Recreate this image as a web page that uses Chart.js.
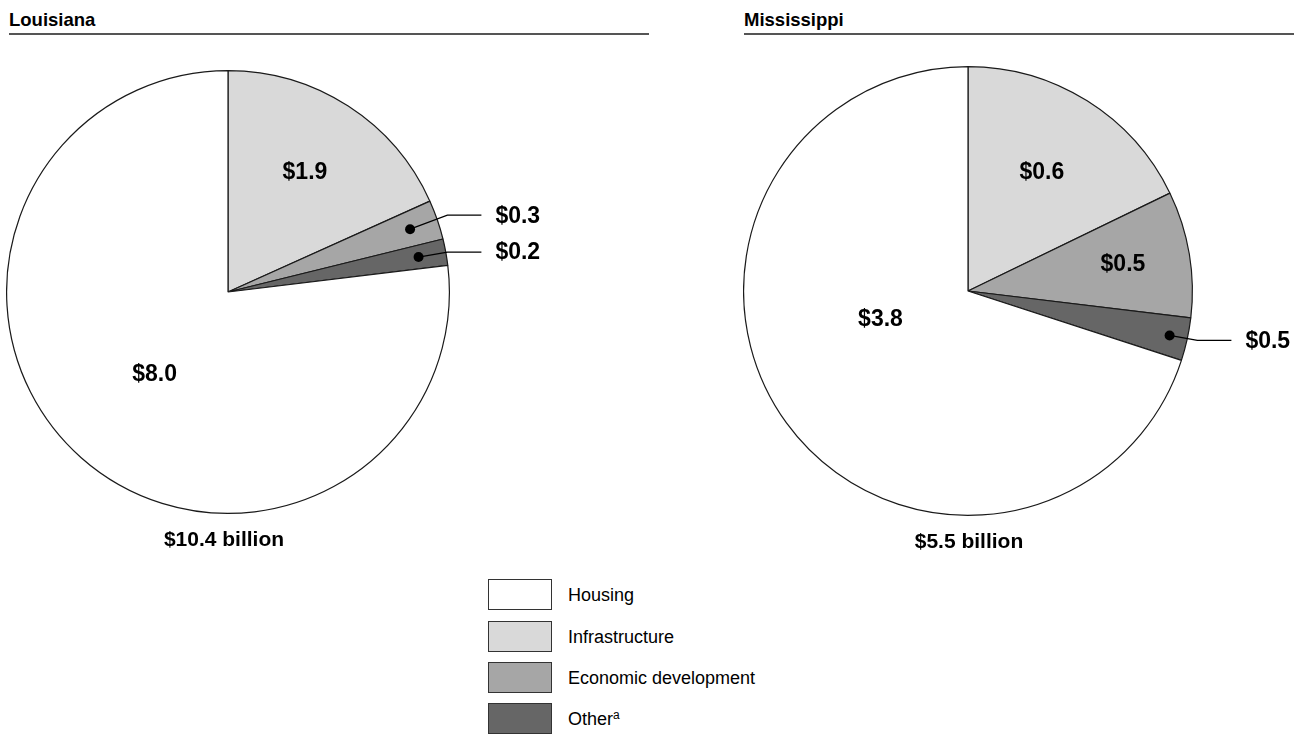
<!DOCTYPE html>
<html><head><meta charset="utf-8">
<script src="https://cdn.jsdelivr.net/npm/chart.js@4"></script>
<style>
body{margin:0;background:#fff;width:1294px;height:739px;overflow:hidden;position:relative;font-family:"Liberation Sans",Arial,sans-serif;color:#000;}
.title{position:absolute;font-weight:bold;font-size:18.5px;line-height:22px;}
.rule{position:absolute;height:2px;background:#555;}
canvas{position:absolute;}
.lg-box{position:absolute;left:488px;width:62px;height:29px;border:1.5px solid #333;}
.lg-text{position:absolute;left:568px;font-size:18px;line-height:20px;}
.lg-text sup{font-size:12px;vertical-align:6px;line-height:0;}
</style></head><body>
<div class="title" style="left:9px;top:9px">Louisiana</div>
<div class="rule" style="left:9px;top:33px;width:640px"></div>
<div class="title" style="left:744px;top:9px">Mississippi</div>
<div class="rule" style="left:744px;top:33px;width:550px"></div>
<canvas id="la" width="600" height="500" style="left:6px;top:70px"></canvas>
<canvas id="ms" width="551" height="510" style="left:743px;top:66px"></canvas>
<div id="legend"></div>
<script>
// legend order
const categories = ['Housing', 'Infrastructure', 'Economic development', 'Other'];
const categoryNotes = ['', '', '', 'a'];
const colors = ['#ffffff', '#d9d9d9', '#a6a6a6', '#666666'];
// order in which slices are drawn clockwise from 12 o'clock (indices into categories)
const drawOrder = [1, 2, 3, 0];

// values in legend order (billions)
const louisianaValues = [8.0, 1.9, 0.3, 0.2];
const louisianaLabels = ['$8.0', '$1.9', '$0.3', '$0.2'];
const louisianaTotal = '$10.4 billion';

// slice sizes as drawn in the picture (billions), legend order
const mississippiValues = [3.85, 0.98, 0.50, 0.17];
const mississippiLabels = ['$3.8', '$0.6', '$0.5', '$0.5'];
const mississippiTotal = '$5.5 billion';

const FONT = '"Liberation Sans", Arial, sans-serif';

const sliceLabels = {
  id: 'sliceLabels',
  afterDatasetsDraw(chart, args, opts) {
    const ctx = chart.ctx;
    const arcs = chart.getDatasetMeta(0).data;
    ctx.save();
    ctx.fillStyle = '#000';
    ctx.strokeStyle = '#000';
    arcs.forEach((arc, i) => {
      const p = opts.place[i];
      const cx = arc.x, cy = arc.y, R = arc.outerRadius;
      const mid = (arc.startAngle + arc.endAngle) / 2 + (p.da || 0) * Math.PI / 180;
      ctx.font = 'bold 23px ' + FONT;
      if (p.type === 'in') {
        ctx.textAlign = 'center'; ctx.textBaseline = 'middle';
        ctx.fillText(opts.labels[i], cx + Math.cos(mid) * R * p.r, cy + Math.sin(mid) * R * p.r);
      } else {
        const dx = cx + Math.cos(mid) * R * p.r, dy = cy + Math.sin(mid) * R * p.r;
        const ly = dy + p.dy;
        const ex = cx + R + p.elbow, endx = ex + 34;
        ctx.lineWidth = 1.2;
        ctx.beginPath(); ctx.moveTo(dx, dy); ctx.lineTo(ex, ly); ctx.lineTo(endx, ly); ctx.stroke();
        ctx.beginPath(); ctx.arc(dx, dy, 5, 0, Math.PI * 2); ctx.fill();
        ctx.textAlign = 'left'; ctx.textBaseline = 'middle';
        ctx.fillText(opts.labels[i], endx + 14, ly + 1);
      }
    });
    const a0 = arcs[0];
    ctx.font = 'bold 21px ' + FONT;
    ctx.textAlign = 'center'; ctx.textBaseline = 'middle';
    ctx.fillText(opts.total, a0.x + opts.totalDx, a0.y + a0.outerRadius + 27);
    ctx.restore();
  }
};

function makePie(id, values, labels, total, place, padding, totalDx) {
  const pick = arr => drawOrder.map(k => arr[k]);
  return new Chart(document.getElementById(id), {
    type: 'pie',
    data: {
      labels: pick(categories),
      datasets: [{
        data: pick(values),
        backgroundColor: pick(colors),
        borderColor: '#1a1a1a',
        borderWidth: 1.2
      }]
    },
    options: {
      responsive: false,
      animation: false,
      layout: { padding: padding },
      plugins: {
        legend: { display: false },
        tooltip: { enabled: false },
        sliceLabels: { labels: pick(labels), total: total, place: pick(place), totalDx: totalDx }
      }
    },
    plugins: [sliceLabels]
  });
}

// label placement per category (legend order)
makePie('la', louisianaValues, louisianaLabels, louisianaTotal,
  [{type: 'in', r: 0.5}, {type: 'in', r: 0.64}, {type: 'out', r: 0.87, dy: -14, elbow: -2}, {type: 'out', r: 0.875, dy: -5, elbow: -2}],
  {right: 156, bottom: 56}, -4);
makePie('ms', mississippiValues, mississippiLabels, mississippiTotal,
  [{type: 'in', r: 0.41, da: 18}, {type: 'in', r: 0.62}, {type: 'in', r: 0.70}, {type: 'out', r: 0.92, dy: 5, elbow: 5}],
  {right: 101, bottom: 60}, 1);

// legend
const legend = document.getElementById('legend');
const legendTops = [579, 621, 662, 703];
categories.forEach((c, i) => {
  const b = document.createElement('div');
  b.className = 'lg-box';
  b.style.top = legendTops[i] + 'px';
  b.style.background = colors[i];
  legend.appendChild(b);
  const t = document.createElement('div');
  t.className = 'lg-text';
  t.style.top = (legendTops[i] + 6) + 'px';
  t.textContent = c;
  if (categoryNotes[i]) {
    const s = document.createElement('sup');
    s.textContent = categoryNotes[i];
    t.appendChild(s);
  }
  legend.appendChild(t);
});
</script>
</body></html>
